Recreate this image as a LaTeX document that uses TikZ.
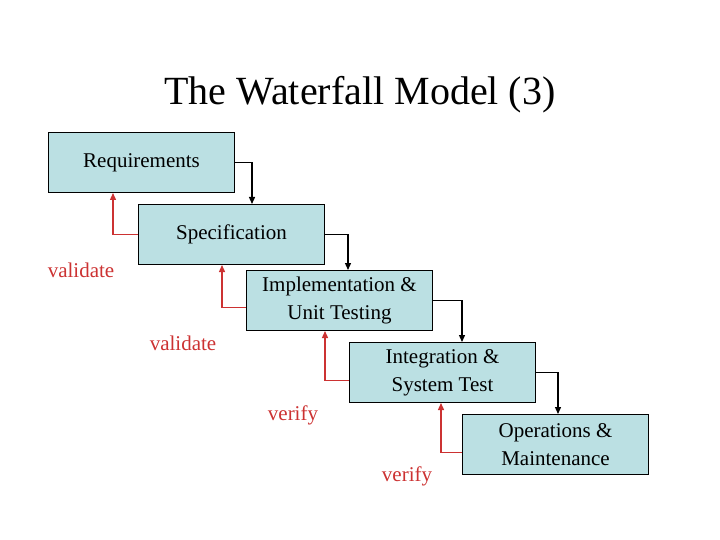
\documentclass[tikz,border=0pt]{standalone}
\usepackage{fontspec}
\setmainfont{Liberation Serif}
\usetikzlibrary{arrows.meta}
\definecolor{boxfill}{RGB}{187,224,227}
\definecolor{vred}{RGB}{204,50,50}
\begin{document}
\begin{tikzpicture}[x=1pt,y=-1pt,
  box/.style={draw=black,line width=1pt,fill=boxfill,minimum width=186pt,minimum height=60pt,inner sep=0pt,align=center,font=\fontsize{21}{28}\selectfont,anchor=north west},
  flow/.style={draw=black,line width=1.3pt,-{Triangle[length=7pt,width=6pt]}},
  back/.style={draw=vred,line width=1.3pt,-{Triangle[length=7pt,width=6pt]}},
  lbl/.style={text=vred,font=\fontsize{21}{24}\selectfont}]
\useasboundingbox (0,0) rectangle (720,540);
\node[font=\fontsize{40}{46}\selectfont] (title) at (360,95) {The Waterfall Model (3)};
\node[box] (req) at (48,132) {Requirements};
\node[box] (spec) at (138,204) {Specification};
\node[box] (impl) at (246,270) {Implementation \&\\Unit Testing};
\node[box] (integ) at (349,342) {Integration \&\\System Test};
\node[box] (ops) at (462,414) {Operations \&\\Maintenance};
\draw[flow] (req.east) -| (spec.north west -| 252,0);
\draw[flow] (spec.east) -| (impl.north west -| 348,0);
\draw[flow] (impl.east) -| (integ.north west -| 462,0);
\draw[flow] (integ.east) -| (ops.north west -| 558,0);
\draw[back] ([yshift=-0pt]spec.west) -| (req.south west -| 113,0);
\draw[back] ([yshift=-7pt]impl.west) -| (spec.south west -| 222,0);
\draw[back] ([yshift=-8pt]integ.west) -| (impl.south west -| 325,0);
\draw[back] ([yshift=-8pt]ops.west) -| (integ.south west -| 441,0);
\node[lbl] (v1) at (81,270) {validate};
\node[lbl] (v2) at (183,343) {validate};
\node[lbl] (v3) at (293,415) {verify};
\node[lbl] (v4) at (407,476) {verify};
\end{tikzpicture}
\end{document}
